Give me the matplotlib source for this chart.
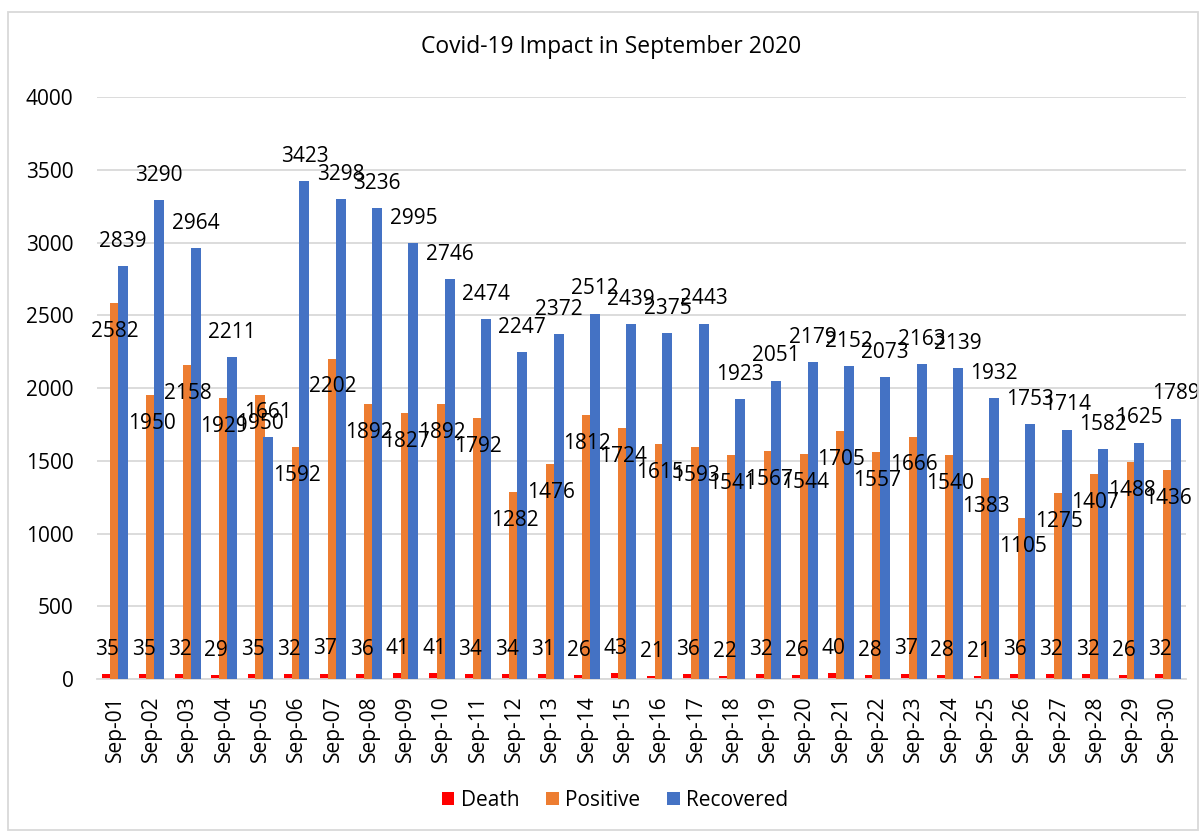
import numpy as np
import matplotlib.pyplot as plt

plt.rcParams['font.family'] = ['Open Sans', 'DejaVu Sans']

days = ['Sep-%02d' % d for d in range(1, 31)]
death = [35, 35, 32, 29, 35, 32, 37, 36, 41, 41, 34, 34, 31, 26, 43,
         21, 36, 22, 32, 26, 40, 28, 37, 28, 21, 36, 32, 32, 26, 32]
positive = [2582, 1950, 2158, 1929, 1950, 1592, 2202, 1892, 1827, 1892,
            1792, 1282, 1476, 1812, 1724, 1615, 1593, 1541, 1567, 1544,
            1705, 1557, 1666, 1540, 1383, 1105, 1275, 1407, 1488, 1436]
recovered = [2839, 3290, 2964, 2211, 1661, 3423, 3298, 3236, 2995, 2746,
             2474, 2247, 2372, 2512, 2439, 2375, 2443, 1923, 2051, 2179,
             2152, 2073, 2163, 2139, 1932, 1753, 1714, 1582, 1625, 1789]

x = np.arange(len(days))
w = 0.275
step = 0.214
fs = 15

fig = plt.figure(figsize=(12.04, 8.32), dpi=100)
ax = fig.add_axes([97/1204, 153/832, 1089/1204, 582/832])

b1 = ax.bar(x - step, death, w, color='#FF0000', label='Death', zorder=2)
b2 = ax.bar(x, positive, w, color='#ED7D31', label='Positive', zorder=3)
b3 = ax.bar(x + step, recovered, w, color='#4472C4', label='Recovered', zorder=4)

# data labels (roughly where excel put them)
for i in range(len(days)):
    ax.text(x[i] - step, death[i] + 170, str(death[i]), ha='center', va='center',
            fontsize=fs, zorder=5)
    ax.text(x[i], positive[i] - 195, str(positive[i]), ha='center', va='center',
            fontsize=fs, zorder=5)
    ax.text(x[i] + step, recovered[i] + 170, str(recovered[i]), ha='center',
            va='center', fontsize=fs, zorder=5)

ax.set_xlim(-0.5, len(days) - 0.5)
ax.set_ylim(0, 4000)
ax.set_yticks(np.arange(0, 4001, 500))
ax.set_xticks(x)
ax.set_xticklabels(days, rotation=90)
ax.tick_params(axis='both', length=0, labelsize=fs)
ax.tick_params(axis='y', pad=17)
ax.tick_params(axis='x', pad=12)
ax.yaxis.grid(True, color='#D9D9D9', linewidth=1.3, zorder=0)
ax.set_axisbelow(True)
for s in ['top', 'right', 'left']:
    ax.spines[s].set_visible(False)
ax.spines['bottom'].set_color('#D9D9D9')
ax.spines['bottom'].set_linewidth(1.3)

fig.text(611/1204, 1 - 47/832, 'Covid-19 Impact in September 2020', ha='center',
         va='center', fontsize=16.5)
fig.legend(handles=[b1, b2, b3], loc='center', bbox_to_anchor=(615/1204, 1 - 800/832),
           ncol=3, frameon=False, fontsize=fs, handlelength=0.6, handleheight=0.6,
           handletextpad=0.3, columnspacing=1.3)

# chart border
fig.patches.append(plt.Rectangle((8/1204, 2/832), 1190/1204, 818/832,
                                 transform=fig.transFigure, fill=False,
                                 edgecolor='#D9D9D9', linewidth=1.3))

fig.savefig('out.png', dpi=100)
